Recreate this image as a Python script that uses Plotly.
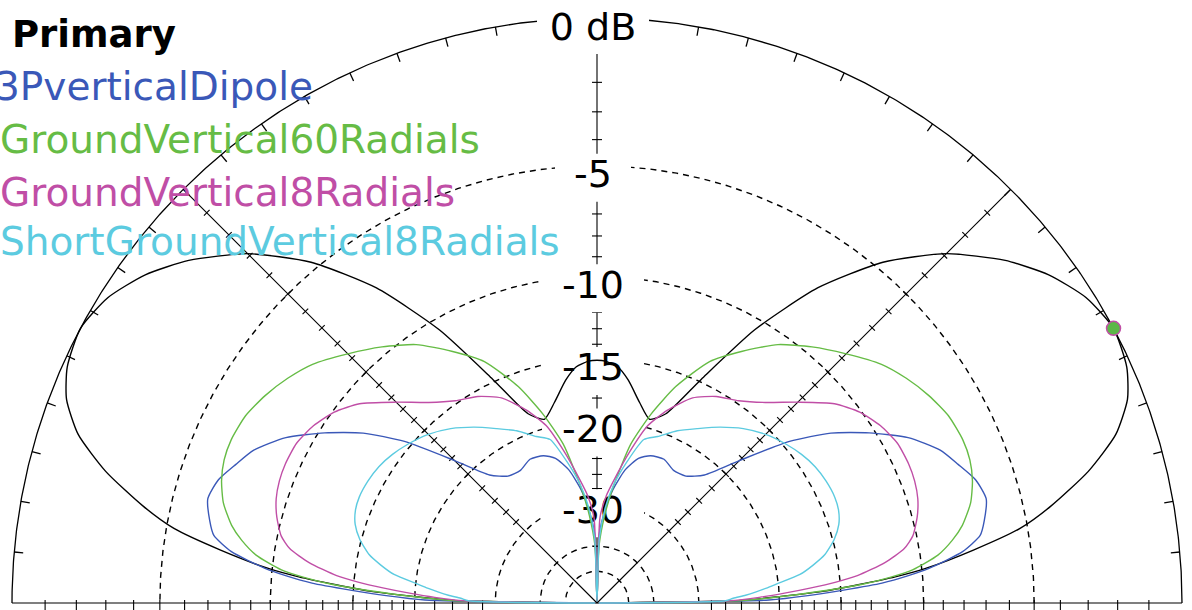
import numpy as np
import plotly.graph_objects as go

# Elevation angles (degrees) for the half pattern; the other half is its mirror (180 - angle)
ELEVATION_DEG = [0, 1, 2, 3, 4, 5, 6, 8, 10, 12, 15, 18, 21, 24, 28, 32, 36, 40,
                 45, 50, 55, 60, 65, 70, 74, 78, 82, 85, 88, 90]

# Gain in dB relative to the primary pattern maximum
PRIMARY_DB = [-99, -24, -20.0, -16.2, -13.8, -11.5, -9.8, -7.4, -5.3, -4.0, -2.4, -1.2,
              -0.5, -0.15, 0.0, -0.25, -0.8, -1.6, -2.9, -4.7, -7.2, -10.6, -14.8, -18.3,
              -19.2, -18.0, -16.4, -15.5, -15.15, -15.1]
DIPOLE_DB = [-99, -21, -17.5, -14.8, -12.3, -10.8, -9.6, -7.9, -7.0, -6.7, -6.4, -6.6,
             -7.1, -7.6, -8.7, -10.3, -12.1, -14.5, -18.3, -21.5, -22.8, -23.0, -22.4, -22.6,
             -23.3, -25.0, -28.0, -31.5, -36.5, -99]
GV60_DB = [-99, -24, -19.8, -16.5, -13.6, -11.8, -10.5, -9.1, -8.3, -7.7, -7.1, -6.75,
           -6.55, -6.5, -6.6, -6.9, -7.3, -7.8, -8.7, -9.6, -10.6, -12.0, -13.5, -16.0,
           -18.7, -22.0, -27.5, -32.5, -40, -99]
GV8_DB = [-99, -25.5, -22, -19.5, -17.3, -15.3, -13.8, -12.0, -10.8, -10.2, -9.75, -9.45,
          -9.3, -9.25, -9.3, -9.6, -10.1, -10.9, -12.4, -13.8, -14.8, -15.4, -16.3, -18.0,
          -19.8, -23.0, -26.5, -29.0, -33, -99]
SHORT_GV8_DB = [-99, -26, -25, -23.5, -22.3, -21.2, -20.2, -18.0, -16.8, -15.8, -14.9, -14.3,
                -14.0, -13.9, -13.95, -14.1, -14.4, -14.8, -15.4, -16.2, -17.2, -18.3, -19.3,
                -20.5, -21.2, -24.0, -27.3, -31, -38, -99]

SERIES_NAMES = ["Primary", "3PverticalDipole", "GroundVertical60Radials",
                "GroundVertical8Radials", "ShortGroundVertical8Radials"]
SERIES_DB = [PRIMARY_DB, DIPOLE_DB, GV60_DB, GV8_DB, SHORT_GV8_DB]
SERIES_COLORS = ["#000000", "#3a58b8", "#66bc45", "#c04ea6", "#5ccbe0"]

RING_DB = [-5, -10, -15, -20, -30, -40, -50]
LABELED_DB = [0, -5, -10, -15, -20, -30]
LABEL_TEXT = ["0 dB", "-5", "-10", "-15", "-20", "-30"]
AXIS_TICK_DB = list(range(-1, -21, -1)) + [-22, -24, -26, -28]
ANGLE_TICK_DEG = list(range(5, 180, 5))
CURSOR = (28, 0.0)  # elevation, dB

W, H = 1192, 610
RPX = 585.0            # pixels for the 0 dB circle
CX, CY = 597.0, 603.0  # pattern centre in page pixels
PX = 1.0 / RPX
FONT = "DejaVu Sans"


def arrl_r(db):
    """ARRL log scale: radius shrinks by 0.89 for every 2 dB."""
    return 0.89 ** (-np.asarray(db, dtype=float) / 2.0)


def polar_xy(deg, db):
    r = arrl_r(db)
    t = np.radians(np.asarray(deg, dtype=float))
    return r * np.cos(t), r * np.sin(t)


def seg_trace(xs, ys, width=1.0, dash="solid", color="black"):
    return go.Scatter(x=xs, y=ys, mode="lines", hoverinfo="skip",
                      line=dict(color=color, width=width, dash=dash))


fig = go.Figure()

# dashed dB rings
arc = np.linspace(0, np.pi, 721)
rx, ry = [], []
for db in RING_DB:
    r = float(arrl_r(db))
    rx += list(r * np.cos(arc)) + [None]
    ry += list(r * np.sin(arc)) + [None]
fig.add_trace(seg_trace(rx, ry, 1.4, "6px,5px"))

# 0 dB outer circle with inward elevation ticks
ox = list(np.cos(arc)) + [None]
oy = list(np.sin(arc)) + [None]
for a in ANGLE_TICK_DEG:
    t = np.radians(a)
    ox += [np.cos(t), (1 - 9 * PX) * np.cos(t), None]
    oy += [np.sin(t), (1 - 9 * PX) * np.sin(t), None]
fig.add_trace(seg_trace(ox, oy, 1.3))

# baseline, vertical and 45 degree axes with dB ticks
lx, ly = [-1, 1, None], [0, 0, None]
for a in (45, 90, 135):
    t = np.radians(a)
    lx += [0, np.cos(t), None]
    ly += [0, np.sin(t), None]
for db in AXIS_TICK_DB:
    r = float(arrl_r(db))
    for s in (-1, 1):
        lx += [s * r, s * r, None]
        ly += [3 * PX, -9 * PX, None]
    lx += [-5 * PX, 5 * PX, None]
    ly += [r, r, None]
    for a in (45, 135):
        t = np.radians(a)
        px, py = r * np.cos(t), r * np.sin(t)
        nx, ny = -np.sin(t), np.cos(t)
        lx += [px - 4 * PX * nx, px + 4 * PX * nx, None]
        ly += [py - 4 * PX * ny, py + 4 * PX * ny, None]
fig.add_trace(seg_trace(lx, ly, 1.1))

# white plates behind the scale labels
bx, by, tx, ty = [], [], [], []
for db, txt in zip(LABELED_DB, LABEL_TEXT):
    cy = float(arrl_r(db)) - 12 * PX
    cx = -4 * PX
    hw = (56 if txt == "0 dB" else 12 + 13 * len(txt)) * PX
    hh = 24 * PX
    bx += [cx - hw, cx + hw, cx + hw, cx - hw, cx - hw, None]
    by += [cy - hh, cy - hh, cy + hh, cy + hh, cy - hh, None]
    tx.append(cx)
    ty.append(cy)
fig.add_trace(go.Scatter(x=bx, y=by, mode="lines", fill="toself", fillcolor="white",
                         line=dict(width=0, color="white"), hoverinfo="skip"))
fig.add_trace(go.Scatter(x=tx, y=ty, mode="text", text=LABEL_TEXT, hoverinfo="skip",
                         textposition="middle center",
                         textfont=dict(family=FONT, size=38, color="black")))

# patterns: right half then mirrored left half
full_deg = ELEVATION_DEG + [180 - e for e in reversed(ELEVATION_DEG[:-1])]
for name, vals, col in zip(SERIES_NAMES, SERIES_DB, SERIES_COLORS):
    full_db = list(vals) + list(reversed(vals[:-1]))
    x, y = polar_xy(full_deg, full_db)
    fig.add_trace(go.Scatter(x=x, y=y, mode="lines", name=name, hoverinfo="skip",
                             line=dict(color=col, width=1.4, shape="spline", smoothing=0.6)))

# cursor at the maximum
mx, my = polar_xy([CURSOR[0]], [CURSOR[1]])
fig.add_trace(go.Scatter(x=mx, y=my, mode="markers", hoverinfo="skip",
                         marker=dict(size=14, color="#5cb848",
                                     line=dict(color="#c04ea6", width=1.5))))

# legend text, top left (the names run off the left edge of the window)
legend_y = [35, 86, 139, 192, 242]
legend_x = [10, -7, -2, -2, -2]
for i, (name, col) in enumerate(zip(SERIES_NAMES, SERIES_COLORS)):
    fig.add_annotation(xref="paper", yref="paper", x=legend_x[i] / W, y=1 - legend_y[i] / H,
                       xanchor="left", yanchor="middle", showarrow=False,
                       text=f"<b>{name}</b>" if i == 0 else name,
                       font=dict(family=FONT, size=37 if i == 0 else 39, color=col))

fig.update_layout(
    width=W, height=H, margin=dict(l=0, r=0, t=0, b=0),
    paper_bgcolor="white", plot_bgcolor="white", showlegend=False,
    xaxis=dict(visible=False, range=[-CX / RPX, (W - CX) / RPX], fixedrange=True),
    yaxis=dict(visible=False, range=[-(H - CY) / RPX, CY / RPX], fixedrange=True),
)

fig.write_html("out.html")
